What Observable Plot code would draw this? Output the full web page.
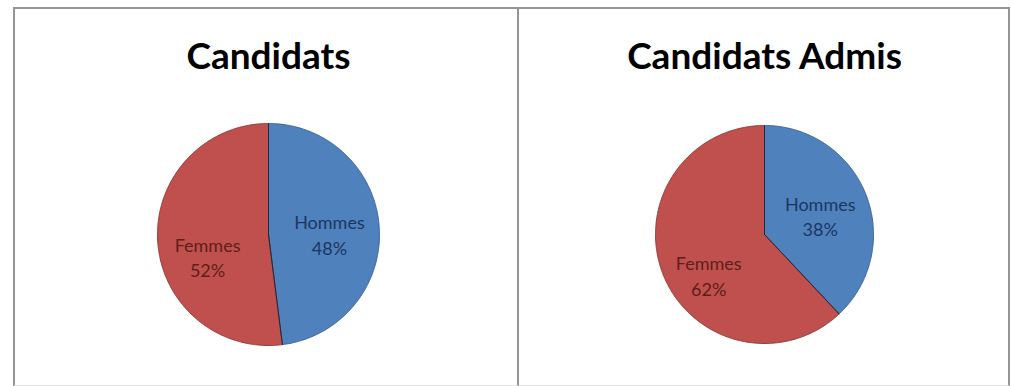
<!DOCTYPE html>
<html>
<head>
<meta charset="utf-8">
<script src="https://cdn.jsdelivr.net/npm/d3@7"></script>
<script src="https://cdn.jsdelivr.net/npm/@observablehq/plot@0.6"></script>
<style>
  html, body { margin: 0; background: #fff; }
  #charts { position: absolute; left: 13px; top: 7px; display: flex; }
  .panel { border: 2px solid #959595; border-bottom: 1px solid #e0e0e0; }
  .panel + .panel { border-left: none; }
  .panel svg { display: block; }
</style>
</head>
<body>
<div id="charts"></div>
<script>
// Répartition hommes / femmes : candidats et candidats admis
const chartTitles = ["Candidats", "Candidats Admis"];
const categories = ["Hommes", "Femmes"];
const candidatsPct = [48, 52];
const admisPct = [38, 62];

const sliceColors = ["#4F81BD", "#C0504D"];
const sliceOutlines = ["#3a6597", "#8f3b39"];
const labelColors = ["#1b3761", "#5e1e1c"];
const labelShift = [3, 18];

// panel box (inner size) and pie placement, in pixels
const layouts = [
  {w: 502, h: 376, cx: 253, cy: 225, r: 111},
  {w: 489, h: 376, cx: 245, cy: 225, r: 109}
];

// slice outlines on the unit circle, clockwise from 12 o'clock
function slicesOf(values) {
  const total = d3.sum(values);
  let start = 0;
  return values.map((v, i) => {
    const a0 = start, a1 = start + (v / total) * 2 * Math.PI;
    start = a1;
    const n = Math.max(2, Math.ceil((a1 - a0) / (Math.PI / 360)));
    const pts = [{x: 0, y: 0}];
    for (let k = 0; k <= n; ++k) {
      const a = a0 + (a1 - a0) * k / n;
      pts.push({x: Math.sin(a), y: Math.cos(a)});
    }
    pts.push({x: 0, y: 0});
    const mid = (a0 + a1) / 2;
    return {category: categories[i], value: v, i, pts, mid};
  });
}

function pieChart(title, values, L) {
  const mL = Math.max(0, 2 * L.cx - L.w);
  const mT = Math.max(0, 2 * L.cy - L.h);
  const fw = L.w - mL, fh = L.h - mT;
  const slices = slicesOf(values);
  const marks = [];
  for (const s of slices) {
    marks.push(Plot.line(s.pts, {
      x: "x", y: "y",
      fill: sliceColors[s.i], stroke: sliceOutlines[s.i],
      strokeWidth: 1, curve: "linear"
    }));
  }
  // dividing radii
  for (const s of slices) {
    marks.push(Plot.line([s.pts[0], s.pts[1]], {x: "x", y: "y", stroke: "#1f2a3a", strokeWidth: 1}));
  }
  for (const s of slices) {
    marks.push(Plot.text([s], {
      x: d => 0.55 * Math.sin(d.mid),
      y: d => 0.55 * Math.cos(d.mid),
      text: d => `${d.category}\n${d.value}%`,
      fill: labelColors[s.i],
      fontSize: 18,
      lineHeight: 1.42,
      dy: labelShift[s.i]
    }));
  }
  marks.push(Plot.text([title], {
    text: d => d,
    frameAnchor: "top",
    lineAnchor: "bottom",
    dy: -15,
    fontSize: 37,
    fontWeight: 700,
    fill: "#000"
  }));
  return Plot.plot({
    width: L.w,
    height: L.h,
    marginLeft: mL, marginRight: 0, marginTop: mT, marginBottom: 0,
    style: {fontFamily: "Lato, 'DejaVu Sans', sans-serif", background: "#fff", overflow: "visible"},
    x: {domain: [-fw / 2 / L.r, fw / 2 / L.r], axis: null},
    y: {domain: [-fh / 2 / L.r, fh / 2 / L.r], axis: null},
    marks
  });
}

const root = document.getElementById("charts");
[candidatsPct, admisPct].forEach((vals, i) => {
  const panel = document.createElement("div");
  panel.className = "panel";
  panel.appendChild(pieChart(chartTitles[i], vals, layouts[i]));
  root.appendChild(panel);
});
</script>
</body>
</html>
